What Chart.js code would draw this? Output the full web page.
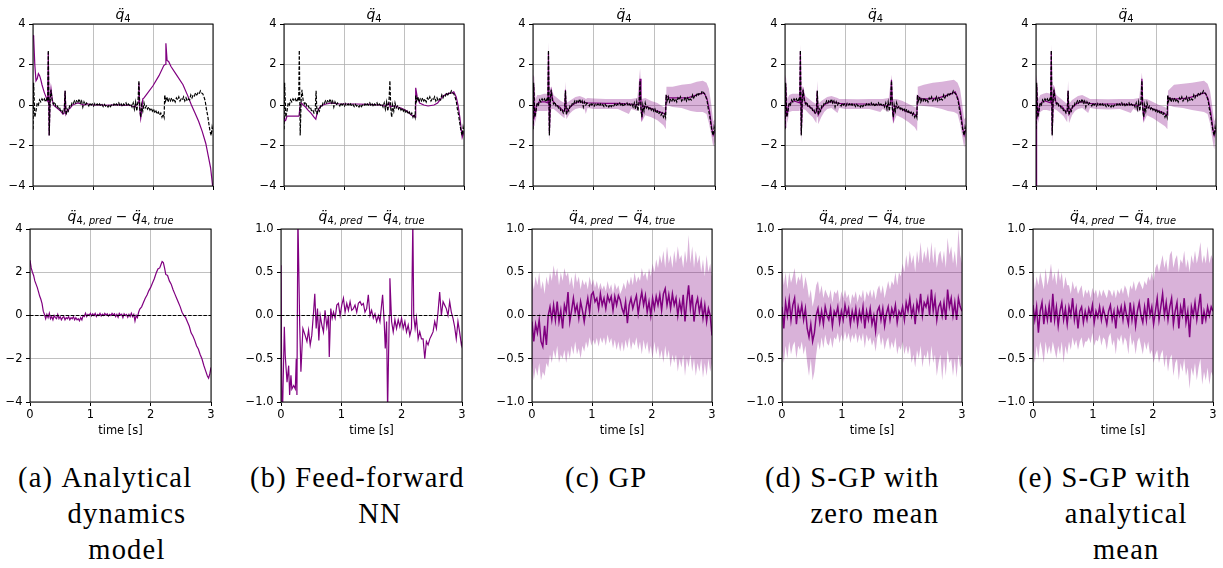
<!DOCTYPE html>
<html><head><meta charset="utf-8">
<script src="https://cdn.jsdelivr.net/npm/chart.js@4.4.0/dist/chart.umd.min.js"></script>
<style>
html,body{margin:0;padding:0;background:#fff;}
body{width:1223px;height:568px;overflow:hidden;position:relative;font-family:"DejaVu Sans",sans-serif;}
canvas{position:absolute;}
.ttl{position:absolute;width:200px;text-align:center;font-family:"DejaVu Sans";font-size:14px;line-height:20px;height:20px;white-space:nowrap;color:#000;}
.ttl .s{font-size:70%;position:relative;top:0.3em;}
.cap{position:absolute;top:460px;font-family:"Liberation Serif",serif;font-size:28.5px;letter-spacing:1.2px;line-height:36px;white-space:nowrap;color:#000;}
.cap .p{display:inline-block;vertical-align:top;}
.cap .b{display:inline-block;vertical-align:top;text-align:center;}
</style></head><body>
<script>
// ---------------- DATA ----------------
const xTicks = [0, 1, 2, 3];
const topYTicks = [-4, -2, 0, 2, 4];
const errYTicksA = [-4, -2, 0, 2, 4];
const errYTicks = [-1.0, -0.5, 0.0, 0.5, 1.0];
const refLine = [[0, 0], [3, 0]];
const DT = 0.03;

// ground truth q4 acceleration [t, value]
const qTrue = [[0,-1.2],[0.01,1.1],[0.02,0.3],[0.03,-0.6],[0.05,-0.3],[0.07,0.1],[0.09,0.0],[0.11,0.25],[0.13,0.15],[0.15,0.3],[0.17,0.2],[0.19,0.3],[0.21,0.15],[0.23,0.3],[0.245,0.2],[0.255,2.7],[0.27,-1.5],[0.285,0.2],[0.30,0.75],[0.32,0.2],[0.34,0.05],[0.36,0.15],[0.38,-0.05],[0.40,0.0],[0.42,-0.15],[0.44,-0.1],[0.46,-0.3],[0.48,-0.25],[0.50,-0.4],[0.52,-0.3],[0.535,0.7],[0.55,-0.5],[0.57,-0.2],[0.59,-0.3],[0.61,-0.05],[0.63,-0.1],[0.65,0.1],[0.67,0.05],[0.69,0.2],[0.71,0.1],[0.73,0.25],[0.75,0.15],[0.77,0.3],[0.79,0.1],[0.81,0.2],[0.83,-0.1],[0.85,0.15],[0.87,0.0],[0.89,0.1],[0.91,0.05],[0.93,-0.05],[0.95,0.1],[0.97,0.0],[0.99,0.05],[1.01,-0.05],[1.03,0.08],[1.05,0.0],[1.07,0.05],[1.09,-0.05],[1.11,0.05],[1.13,-0.05],[1.15,0.02],[1.17,-0.08],[1.19,0.03],[1.21,-0.05],[1.23,0.0],[1.25,-0.1],[1.27,0.02],[1.29,-0.08],[1.31,0.0],[1.33,-0.05],[1.35,0.05],[1.37,-0.05],[1.39,0.05],[1.41,0.0],[1.43,0.1],[1.45,-0.05],[1.47,0.05],[1.49,-0.08],[1.51,0.05],[1.53,0.0],[1.55,0.1],[1.57,-0.05],[1.59,0.05],[1.61,-0.02],[1.63,0.05],[1.65,-0.1],[1.67,0.1],[1.69,-0.2],[1.71,0.15],[1.73,-0.3],[1.75,0.2],[1.765,1.2],[1.78,-0.2],[1.795,-0.6],[1.81,0.0],[1.83,-0.3],[1.85,0.1],[1.87,-0.15],[1.89,-0.05],[1.91,-0.2],[1.93,-0.1],[1.95,-0.25],[1.97,-0.15],[1.99,-0.3],[2.01,-0.2],[2.03,-0.4],[2.05,-0.3],[2.07,-0.45],[2.09,-0.35],[2.11,-0.5],[2.13,-0.4],[2.15,-0.6],[2.17,-0.45],[2.185,-0.6],[2.195,0.5],[2.21,0.2],[2.23,0.4],[2.25,0.15],[2.27,0.3],[2.29,0.2],[2.31,0.35],[2.33,0.2],[2.35,0.3],[2.37,0.15],[2.39,0.35],[2.41,0.25],[2.43,0.4],[2.45,0.2],[2.47,0.3],[2.49,0.25],[2.51,0.4],[2.53,0.2],[2.55,0.35],[2.57,0.2],[2.59,0.3],[2.61,0.25],[2.63,0.5],[2.65,0.35],[2.67,0.5],[2.69,0.45],[2.71,0.6],[2.73,0.5],[2.75,0.6],[2.77,0.55],[2.79,0.7],[2.81,0.6],[2.83,0.55],[2.85,0.4],[2.87,0.2],[2.89,-0.2],[2.91,-0.5],[2.93,-0.9],[2.95,-1.3],[2.97,-1.5],[2.985,-1.1],[3.00,-1.3]];

// (a) analytical dynamics model prediction
const predA = [[0,3.45],[0.01,3.4],[0.03,2.0],[0.05,1.2],[0.07,1.3],[0.09,1.55],[0.11,1.45],[0.13,1.25],[0.15,1.0],[0.17,0.8],[0.19,0.6],[0.21,0.45],[0.23,0.3],[0.245,0.2],[0.255,2.6],[0.27,-1.5],[0.285,0.3],[0.30,0.8],[0.32,0.3],[0.34,0.0],[0.38,-0.1],[0.42,-0.2],[0.46,-0.3],[0.50,-0.45],[0.52,-0.4],[0.535,0.7],[0.55,-0.45],[0.58,-0.25],[0.62,-0.15],[0.66,0.0],[0.70,0.05],[0.75,0.1],[0.80,0.05],[0.85,0.0],[0.90,0.05],[1.0,0.0],[1.1,0.02],[1.2,-0.02],[1.3,0.0],[1.4,0.02],[1.5,-0.02],[1.6,0.0],[1.70,-0.1],[1.75,0.1],[1.765,1.1],[1.78,-0.2],[1.795,-0.65],[1.81,-0.3],[1.83,0.3],[1.85,0.35],[1.90,0.55],[2.00,0.95],[2.10,1.45],[2.18,1.95],[2.20,2.0],[2.215,3.05],[2.235,2.2],[2.26,2.15],[2.30,1.9],[2.40,1.45],[2.50,1.0],[2.58,0.45],[2.64,0.0],[2.70,-0.4],[2.76,-0.8],[2.82,-1.3],[2.88,-1.9],[2.92,-2.5],[2.96,-3.1],[2.99,-3.9],[3.00,-4.3]];

// (b) feed-forward NN prediction
const predB = [[0,-0.6],[0.01,-0.8],[0.03,-0.75],[0.05,-0.55],[0.1,-0.55],[0.15,-0.55],[0.2,-0.55],[0.25,-0.55],[0.27,0.0],[0.29,0.1],[0.32,0.0],[0.36,-0.1],[0.40,-0.25],[0.45,-0.4],[0.50,-0.6],[0.53,-0.7],[0.56,-0.3],[0.6,-0.1],[0.65,0.0],[0.7,0.05],[0.8,0.1],[0.9,0.05],[1.0,0.05],[1.2,0.05],[1.4,0.03],[1.6,0.0],[1.7,-0.05],[1.75,0.1],[1.77,-0.1],[1.8,-0.05],[1.85,-0.05],[1.95,-0.15],[2.05,-0.3],[2.12,-0.5],[2.185,-0.6],[2.195,0.85],[2.22,0.4],[2.26,0.1],[2.33,0.0],[2.4,-0.05],[2.5,0.0],[2.56,0.1],[2.6,0.25],[2.65,0.45],[2.72,0.55],[2.8,0.6],[2.83,0.65],[2.87,0.4],[2.9,0.0],[2.93,-0.6],[2.95,-1.1],[2.97,-1.6],[3.0,-1.3]];

// (c) GP mean prediction and band [t, lo, hi]
const predC = [[0,-1.0],[0.01,1.0],[0.03,-0.5],[0.06,0.0],[0.1,0.15],[0.15,0.15],[0.2,0.15],[0.245,0.1],[0.255,2.6],[0.27,-1.4],[0.285,0.2],[0.3,0.7],[0.33,0.2],[0.38,0.0],[0.44,-0.1],[0.5,-0.3],[0.52,-0.25],[0.535,0.75],[0.55,-0.4],[0.6,-0.15],[0.65,0.0],[0.7,0.1],[0.75,0.15],[0.8,0.15],[0.9,0.1],[1.0,0.1],[1.2,0.08],[1.4,0.08],[1.6,0.05],[1.7,0.0],[1.75,0.05],[1.765,1.3],[1.78,-0.2],[1.795,-0.6],[1.82,-0.05],[1.9,-0.1],[2.0,-0.25],[2.1,-0.35],[2.185,-0.45],[2.195,0.45],[2.25,0.35],[2.4,0.35],[2.55,0.35],[2.65,0.45],[2.75,0.55],[2.82,0.6],[2.87,0.3],[2.91,-0.3],[2.95,-1.2],[2.97,-1.5],[3.0,-1.3]];
const bandTopC = [[0,-1.9,1.5],[0.02,-0.2,1.4],[0.04,-0.9,0.3],[0.07,-0.3,0.5],[0.12,-0.3,0.5],[0.18,-0.3,0.55],[0.24,-0.3,0.55],[0.255,0.0,3.1],[0.27,-1.85,0.5],[0.30,-0.2,0.9],[0.34,-0.2,0.5],[0.40,-0.35,0.35],[0.46,-0.5,0.2],[0.52,-0.65,0.1],[0.535,-0.1,1.15],[0.55,-0.7,0.1],[0.60,-0.45,0.2],[0.65,-0.3,0.3],[0.70,-0.2,0.4],[0.77,-0.15,0.45],[0.85,-0.2,0.35],[0.87,-0.45,0.3],[0.90,-0.15,0.35],[1.00,-0.2,0.32],[1.20,-0.2,0.3],[1.40,-0.2,0.3],[1.58,-0.45,0.3],[1.62,-0.2,0.3],[1.72,-0.3,0.35],[1.765,0.1,1.8],[1.79,-0.85,0.3],[1.85,-0.5,0.35],[1.95,-0.6,0.2],[2.05,-0.75,0.1],[2.15,-1.0,-0.1],[2.19,-1.2,-0.1],[2.20,0.0,0.9],[2.30,-0.1,0.9],[2.45,-0.15,1.0],[2.60,-0.3,1.05],[2.70,-0.35,1.15],[2.80,-0.35,1.2],[2.86,-0.45,1.1],[2.90,-0.9,0.8],[2.94,-1.5,0.0],[2.97,-2.05,-0.8],[3.00,-1.8,-0.7]];

// (d) S-GP zero mean
const predD = [[0,-1.1],[0.01,1.05],[0.03,-0.55],[0.06,0.0],[0.1,0.15],[0.15,0.2],[0.2,0.15],[0.245,0.1],[0.255,2.65],[0.27,-1.45],[0.285,0.2],[0.3,0.7],[0.33,0.15],[0.38,-0.05],[0.44,-0.15],[0.5,-0.4],[0.52,-0.35],[0.535,0.7],[0.55,-0.5],[0.6,-0.2],[0.65,0.0],[0.7,0.1],[0.75,0.15],[0.8,0.15],[0.9,0.08],[1.0,0.05],[1.2,0.05],[1.4,0.05],[1.6,0.0],[1.7,-0.05],[1.75,0.05],[1.765,1.25],[1.78,-0.2],[1.795,-0.65],[1.82,-0.05],[1.9,-0.15],[2.0,-0.3],[2.1,-0.4],[2.185,-0.55],[2.195,0.45],[2.25,0.3],[2.4,0.3],[2.55,0.35],[2.65,0.45],[2.75,0.55],[2.82,0.65],[2.87,0.3],[2.91,-0.3],[2.95,-1.2],[2.97,-1.5],[3.0,-1.2]];
const bandTopD = [[0,-1.1,1.5],[0.02,-0.3,1.3],[0.04,-0.9,0.3],[0.07,-0.35,0.5],[0.12,-0.3,0.55],[0.18,-0.3,0.55],[0.24,-0.3,0.55],[0.255,0.0,3.0],[0.27,-1.85,0.5],[0.30,-0.2,0.9],[0.34,-0.25,0.45],[0.40,-0.45,0.3],[0.46,-0.6,0.15],[0.52,-0.9,0.05],[0.535,-0.2,1.2],[0.55,-0.95,0.05],[0.60,-0.6,0.2],[0.65,-0.35,0.3],[0.70,-0.2,0.4],[0.77,-0.15,0.45],[0.87,-0.4,0.35],[0.90,-0.15,0.3],[1.00,-0.2,0.3],[1.20,-0.2,0.28],[1.40,-0.2,0.3],[1.58,-0.35,0.3],[1.62,-0.2,0.3],[1.72,-0.35,0.35],[1.765,0.2,1.5],[1.79,-0.95,0.3],[1.85,-0.5,0.3],[1.95,-0.65,0.2],[2.05,-0.85,0.05],[2.15,-1.1,-0.1],[2.19,-1.3,-0.15],[2.20,0.0,0.9],[2.30,-0.05,1.0],[2.45,-0.1,1.1],[2.60,-0.2,1.15],[2.70,-0.3,1.2],[2.80,-0.35,1.25],[2.86,-0.45,1.1],[2.90,-0.9,0.8],[2.94,-1.6,0.0],[2.97,-2.1,-0.7],[3.00,-1.6,-0.6]];

// (e) S-GP analytical mean
const predE = [[0,-4.0],[0.01,1.0],[0.03,-0.5],[0.06,0.0],[0.1,0.15],[0.15,0.2],[0.2,0.15],[0.245,0.1],[0.255,2.65],[0.27,-1.45],[0.285,0.2],[0.3,0.75],[0.33,0.15],[0.38,0.0],[0.44,-0.1],[0.5,-0.35],[0.52,-0.3],[0.535,0.7],[0.55,-0.45],[0.6,-0.15],[0.65,0.0],[0.7,0.1],[0.75,0.15],[0.8,0.15],[0.9,0.08],[1.0,0.05],[1.2,0.05],[1.4,0.05],[1.6,0.02],[1.7,-0.05],[1.75,0.05],[1.765,1.3],[1.78,-0.2],[1.795,-0.6],[1.82,-0.05],[1.9,-0.15],[2.0,-0.25],[2.1,-0.35],[2.185,-0.5],[2.195,0.4],[2.25,0.3],[2.4,0.3],[2.55,0.35],[2.65,0.45],[2.75,0.55],[2.82,0.6],[2.87,0.3],[2.91,-0.3],[2.95,-1.2],[2.97,-1.5],[3.0,-1.2]];
const bandTopE = [[0,-2.2,1.5],[0.02,-0.3,1.2],[0.04,-0.9,0.3],[0.07,-0.35,0.5],[0.12,-0.25,0.55],[0.18,-0.25,0.6],[0.24,-0.3,0.55],[0.255,0.0,3.0],[0.27,-1.85,0.5],[0.30,-0.2,0.9],[0.34,-0.25,0.5],[0.40,-0.4,0.35],[0.46,-0.55,0.2],[0.52,-0.85,0.05],[0.535,-0.2,1.2],[0.55,-0.9,0.05],[0.60,-0.5,0.25],[0.65,-0.3,0.35],[0.70,-0.2,0.45],[0.77,-0.15,0.5],[0.87,-0.4,0.35],[0.90,-0.15,0.3],[1.00,-0.2,0.3],[1.20,-0.22,0.28],[1.40,-0.2,0.3],[1.58,-0.4,0.3],[1.62,-0.2,0.3],[1.72,-0.35,0.35],[1.765,0.2,1.6],[1.79,-0.9,0.3],[1.85,-0.5,0.3],[1.95,-0.65,0.15],[2.05,-0.85,0.0],[2.15,-1.05,-0.1],[2.19,-1.2,-0.2],[2.20,0.0,0.7],[2.30,-0.1,1.0],[2.45,-0.15,1.05],[2.60,-0.25,1.1],[2.70,-0.3,1.15],[2.80,-0.35,1.2],[2.86,-0.45,1.05],[2.90,-0.9,0.7],[2.94,-1.7,-0.1],[2.97,-2.2,-0.8],[3.00,-1.3,-0.6]];

// errors: (a) analytical model [t, value]
const errA = [[0,2.55],[0.02,2.2],[0.04,2.0],[0.06,1.85],[0.08,1.6],[0.10,1.45],[0.12,1.3],[0.14,1.1],[0.16,0.9],[0.18,0.75],[0.20,0.55],[0.22,0.2],[0.24,0.05],[0.26,-0.15],[0.28,0.05],[0.30,-0.1],[0.32,0.1],[0.34,-0.15],[0.36,-0.05],[0.38,-0.2],[0.40,0.0],[0.42,-0.1],[0.44,-0.15],[0.46,0.05],[0.48,-0.15],[0.50,-0.05],[0.52,-0.2],[0.54,-0.1],[0.56,-0.05],[0.58,-0.2],[0.60,-0.1],[0.62,-0.15],[0.64,-0.05],[0.66,-0.2],[0.68,-0.1],[0.70,-0.15],[0.72,-0.05],[0.74,-0.2],[0.76,-0.1],[0.78,-0.2],[0.80,-0.15],[0.82,-0.25],[0.84,-0.1],[0.86,-0.2],[0.88,0.0],[0.90,-0.05],[0.92,0.1],[0.94,-0.05],[0.96,0.05],[0.98,0.0],[1.00,0.1],[1.02,-0.02],[1.04,0.08],[1.06,0.0],[1.08,0.1],[1.10,-0.05],[1.12,0.05],[1.14,0.0],[1.16,0.1],[1.18,-0.02],[1.20,0.06],[1.22,0.0],[1.24,0.1],[1.26,0.02],[1.28,0.08],[1.30,-0.03],[1.32,0.05],[1.34,0.0],[1.36,0.1],[1.38,0.03],[1.40,0.08],[1.42,-0.05],[1.44,0.05],[1.46,-0.08],[1.48,0.1],[1.50,0.02],[1.52,0.06],[1.54,-0.1],[1.56,0.08],[1.58,0.0],[1.60,0.05],[1.62,-0.08],[1.64,0.05],[1.66,-0.05],[1.68,0.1],[1.70,-0.05],[1.72,0.05],[1.74,-0.25],[1.76,0.0],[1.78,-0.1],[1.80,0.15],[1.82,0.3],[1.85,0.4],[1.88,0.6],[1.91,0.8],[1.94,0.95],[1.97,1.15],[2.00,1.3],[2.03,1.5],[2.06,1.7],[2.09,1.95],[2.12,2.15],[2.15,2.2],[2.17,2.35],[2.19,2.5],[2.21,2.45],[2.23,2.2],[2.25,1.9],[2.28,1.85],[2.31,1.6],[2.34,1.45],[2.37,1.2],[2.40,1.0],[2.43,0.8],[2.46,0.6],[2.49,0.4],[2.52,0.15],[2.55,0.0],[2.58,-0.1],[2.61,-0.3],[2.64,-0.5],[2.67,-0.8],[2.70,-0.95],[2.73,-1.15],[2.76,-1.4],[2.79,-1.55],[2.82,-1.8],[2.85,-2.0],[2.88,-2.3],[2.91,-2.55],[2.94,-2.8],[2.96,-2.9],[2.98,-2.7],[3.00,-2.4]];

// (b) NN error [t, value]
const errB = [[0,0.58],[0.017,-1.4],[0.03,-1.4],[0.055,-0.13],[0.07,-0.46],[0.1,-0.77],[0.127,-0.58],[0.143,-0.92],[0.165,-0.69],[0.18,-0.85],[0.21,-0.81],[0.237,-0.85],[0.253,-0.5],[0.264,-0.92],[0.28,1.16],[0.31,-0.11],[0.33,-0.65],[0.363,-0.15],[0.40,-0.23],[0.43,-0.3],[0.457,-0.17],[0.484,-0.34],[0.51,-0.23],[0.54,0.04],[0.56,0.25],[0.583,-0.15],[0.605,0.08],[0.627,-0.29],[0.65,0.0],[0.677,-0.11],[0.704,-0.19],[0.73,0.06],[0.76,-0.13],[0.787,0.0],[0.80,-0.48],[0.825,0.08],[0.848,-0.03],[0.87,0.04],[0.897,-0.03],[0.925,0.12],[0.952,0.14],[0.98,0.0],[1.007,0.12],[1.035,0.2],[1.062,0.04],[1.09,0.14],[1.117,0.06],[1.145,0.16],[1.172,0.06],[1.2,0.08],[1.227,0.12],[1.255,0.04],[1.282,0.14],[1.31,0.16],[1.337,0.12],[1.365,0.14],[1.392,0.04],[1.42,0.08],[1.447,0.24],[1.475,0.0],[1.502,0.06],[1.53,-0.03],[1.557,0.02],[1.585,-0.07],[1.613,0.0],[1.64,-0.07],[1.684,0.24],[1.71,-0.07],[1.728,-0.38],[1.75,-0.07],[1.767,-1.1],[1.794,0.0],[1.805,0.43],[1.833,-0.07],[1.86,-0.19],[1.888,-0.05],[1.915,-0.15],[1.943,-0.05],[1.97,-0.13],[1.998,-0.03],[2.025,-0.15],[2.053,-0.07],[2.08,-0.19],[2.108,-0.11],[2.135,-0.23],[2.163,-0.15],[2.185,1.1],[2.2,0.0],[2.223,-0.15],[2.245,-0.03],[2.273,-0.27],[2.3,-0.19],[2.328,-0.27],[2.355,-0.27],[2.383,-0.5],[2.41,-0.3],[2.438,-0.34],[2.466,-0.27],[2.493,-0.23],[2.52,-0.19],[2.548,-0.07],[2.576,-0.15],[2.603,0.04],[2.63,0.27],[2.658,0.0],[2.686,0.16],[2.713,0.12],[2.74,0.08],[2.768,0.0],[2.796,0.16],[2.823,0.04],[2.85,-0.03],[2.878,-0.13],[2.905,-0.27],[2.933,-0.07],[2.96,-0.19],[2.99,-0.34],[3.0,-0.3]];

// (c) GP error mean / band, sampled every DT seconds
const errCmean = [-0.07,-0.3,-0.1,-0.2,-0.05,-0.3,-0.36,-0.12,-0.34,0.0,
 0.1,-0.05,0.12,-0.05,0.16,-0.07,0.06,-0.15,0.12,0.04,
 0.27,-0.07,0.06,0.2,0.04,0.12,-0.03,0.16,0.06,-0.07,
 0.08,0.2,0.04,0.24,0.27,0.16,0.2,0.08,0.25,0.12,
 0.2,0.08,0.23,0.16,0.22,0.06,0.22,0.12,0.23,0.18,
 0.08,0.02,0.16,-0.09,0.12,0.2,0.08,0.16,0.23,0.02,
 0.16,0.27,0.12,0.23,0.04,0.16,0.0,0.2,0.08,0.22,
 0.12,0.24,0.06,0.25,0.31,0.12,0.24,0.08,0.25,0.12,
 0.2,0.0,0.16,0.04,0.24,-0.07,0.16,0.35,0.08,0.24,
 -0.07,0.12,0.2,0.04,0.16,-0.03,0.12,-0.07,0.08,0.0,-0.23];
const errCupper = [0.42,0.3,0.45,0.35,0.5,0.3,0.4,0.25,0.45,0.35,
 0.5,0.4,0.58,0.45,0.55,0.35,0.5,0.4,0.55,0.45,
 0.5,0.35,0.45,0.3,0.5,0.38,0.45,0.3,0.42,0.35,
 0.4,0.3,0.45,0.35,0.42,0.32,0.4,0.3,0.38,0.3,
 0.35,0.28,0.4,0.3,0.36,0.25,0.38,0.3,0.35,0.25,
 0.3,0.38,0.3,0.42,0.35,0.45,0.35,0.5,0.38,0.45,
 0.4,0.55,0.45,0.5,0.4,0.55,0.45,0.6,0.5,0.65,
 0.55,0.7,0.6,0.75,0.55,0.8,0.6,0.7,0.55,0.75,
 0.6,0.8,0.65,0.7,0.55,0.75,0.6,0.93,0.6,0.8,
 0.55,0.75,0.6,0.7,0.5,0.65,0.45,0.7,0.5,0.6,0.45];
const errClower = [-0.55,-0.75,-0.6,-0.7,-0.55,-0.75,-0.65,-0.7,-0.55,-0.6,
 -0.45,-0.55,-0.4,-0.5,-0.35,-0.55,-0.45,-0.5,-0.4,-0.55,
 -0.4,-0.5,-0.35,-0.45,-0.3,-0.45,-0.38,-0.5,-0.35,-0.42,
 -0.3,-0.38,-0.25,-0.35,-0.28,-0.34,-0.26,-0.36,-0.25,-0.32,
 -0.25,-0.35,-0.22,-0.32,-0.26,-0.38,-0.28,-0.4,-0.3,-0.42,
 -0.3,-0.42,-0.28,-0.38,-0.25,-0.4,-0.3,-0.35,-0.25,-0.4,
 -0.3,-0.45,-0.28,-0.4,-0.3,-0.45,-0.35,-0.5,-0.3,-0.45,
 -0.35,-0.5,-0.4,-0.55,-0.35,-0.5,-0.4,-0.6,-0.45,-0.55,
 -0.45,-0.65,-0.5,-0.6,-0.45,-0.7,-0.5,-0.6,-0.45,-0.65,
 -0.5,-0.7,-0.55,-0.65,-0.5,-0.72,-0.55,-0.7,-0.5,-0.65,-0.55];

// (d) S-GP zero mean error
const errDmean = [0.1,-0.15,0.15,0.0,0.18,-0.05,0.12,0.2,-0.1,0.1,
 0.0,0.12,-0.05,0.08,-0.15,-0.25,-0.1,-0.3,-0.2,0.0,
 0.08,-0.08,0.05,-0.1,0.1,0.0,-0.05,0.08,-0.12,0.05,
 0.0,0.1,-0.08,0.05,-0.05,0.12,0.0,0.08,-0.1,0.05,
 -0.05,0.08,-0.1,0.05,-0.05,0.1,-0.15,0.05,-0.05,0.08,
 -0.1,0.0,-0.18,0.05,0.1,-0.05,0.08,-0.12,0.02,0.1,
 -0.05,0.08,0.0,0.12,-0.08,0.05,0.0,0.1,-0.05,0.15,
 0.05,0.2,0.0,0.1,-0.1,0.15,0.05,0.25,0.0,0.15,
 0.1,0.2,0.0,0.3,0.05,0.2,-0.05,0.1,0.15,0.0,
 0.15,-0.05,0.3,0.1,0.2,0.0,0.15,-0.05,0.2,0.1,0.05];
const errDupper = [0.55,0.35,0.5,0.3,0.5,0.38,0.45,0.55,0.35,0.45,
 0.4,0.5,0.3,0.45,0.35,0.2,0.3,0.1,0.2,0.35,
 0.4,0.25,0.35,0.2,0.3,0.25,0.2,0.3,0.15,0.28,
 0.25,0.3,0.15,0.28,0.2,0.3,0.2,0.25,0.12,0.25,
 0.2,0.28,0.15,0.25,0.2,0.3,0.15,0.28,0.22,0.3,
 0.2,0.3,0.18,0.3,0.35,0.25,0.35,0.2,0.3,0.4,
 0.3,0.4,0.35,0.5,0.35,0.5,0.45,0.6,0.5,0.7,
 0.55,0.75,0.6,0.7,0.5,0.75,0.6,0.85,0.6,0.75,
 0.65,0.8,0.6,0.85,0.6,0.8,0.55,0.7,0.75,0.6,
 0.75,0.55,0.9,0.7,0.8,0.6,0.75,0.55,1.0,0.7,0.6];
const errDlower = [-0.4,-0.55,-0.35,-0.5,-0.3,-0.45,-0.35,-0.3,-0.5,-0.35,
 -0.4,-0.3,-0.45,-0.35,-0.55,-0.7,-0.5,-0.75,-0.65,-0.45,
 -0.3,-0.4,-0.25,-0.38,-0.22,-0.32,-0.35,-0.25,-0.38,-0.25,
 -0.28,-0.2,-0.32,-0.22,-0.3,-0.18,-0.28,-0.2,-0.32,-0.22,
 -0.28,-0.2,-0.32,-0.22,-0.3,-0.2,-0.38,-0.22,-0.3,-0.25,
 -0.35,-0.28,-0.42,-0.25,-0.2,-0.35,-0.25,-0.4,-0.3,-0.25,
 -0.4,-0.3,-0.38,-0.25,-0.45,-0.35,-0.4,-0.3,-0.45,-0.35,
 -0.45,-0.35,-0.55,-0.45,-0.6,-0.4,-0.5,-0.35,-0.6,-0.45,
 -0.5,-0.4,-0.6,-0.35,-0.55,-0.45,-0.7,-0.55,-0.45,-0.75,
 -0.5,-0.7,-0.4,-0.55,-0.5,-0.7,-0.5,-0.72,-0.45,-0.6,-0.55];

// (e) S-GP analytical mean error
const errEmean = [0.12,-0.05,0.1,-0.2,0.05,0.15,-0.1,0.08,-0.05,0.12,
 -0.08,0.25,-0.05,0.1,-0.12,0.05,0.15,-0.05,0.08,-0.1,
 0.1,0.0,0.2,-0.05,0.08,-0.15,0.05,0.1,-0.08,0.05,
 -0.05,0.08,0.0,0.12,-0.08,0.05,-0.02,0.1,-0.05,0.08,
 0.0,-0.1,0.05,0.12,-0.05,0.05,-0.15,0.08,0.0,0.1,
 -0.05,0.12,0.0,-0.1,0.15,-0.05,0.1,-0.12,0.05,0.15,
 0.0,-0.08,0.1,-0.05,0.2,0.0,0.1,-0.1,0.05,0.2,
 -0.05,0.1,0.25,0.0,0.15,-0.05,0.1,0.2,-0.1,0.05,
 0.15,-0.15,0.1,0.0,0.2,-0.08,0.05,-0.25,0.1,0.0,
 0.15,-0.05,0.1,0.25,-0.1,0.05,-0.05,0.1,0.0,0.1,0.05];
const errEupper = [0.5,0.3,0.45,0.35,0.5,0.4,0.3,0.55,0.35,0.45,
 0.6,0.4,0.5,0.35,0.55,0.4,0.5,0.3,0.45,0.35,
 0.35,0.25,0.4,0.3,0.35,0.25,0.3,0.35,0.2,0.3,
 0.25,0.3,0.2,0.32,0.25,0.3,0.2,0.3,0.22,0.3,
 0.25,0.2,0.3,0.28,0.22,0.3,0.2,0.3,0.25,0.32,
 0.25,0.35,0.3,0.2,0.35,0.3,0.4,0.28,0.35,0.4,
 0.35,0.3,0.4,0.35,0.45,0.4,0.5,0.4,0.55,0.6,
 0.5,0.6,0.7,0.55,0.65,0.5,0.7,0.75,0.55,0.65,
 0.7,0.5,0.65,0.6,0.75,0.55,0.65,0.5,0.7,0.6,
 0.75,0.6,0.7,0.85,0.6,0.7,0.6,0.8,0.6,0.7,0.65];
const errElower = [-0.4,-0.55,-0.35,-0.5,-0.3,-0.4,-0.55,-0.3,-0.45,-0.35,
 -0.45,-0.3,-0.4,-0.5,-0.35,-0.45,-0.3,-0.55,-0.35,-0.45,
 -0.3,-0.4,-0.25,-0.35,-0.28,-0.4,-0.3,-0.25,-0.38,-0.3,
 -0.3,-0.25,-0.32,-0.2,-0.35,-0.28,-0.3,-0.22,-0.35,-0.25,
 -0.28,-0.4,-0.25,-0.2,-0.35,-0.28,-0.45,-0.25,-0.3,-0.22,
 -0.35,-0.25,-0.3,-0.45,-0.2,-0.35,-0.28,-0.45,-0.3,-0.25,
 -0.35,-0.45,-0.3,-0.4,-0.3,-0.45,-0.4,-0.55,-0.45,-0.4,
 -0.55,-0.45,-0.4,-0.6,-0.45,-0.65,-0.5,-0.45,-0.7,-0.55,
 -0.5,-0.75,-0.55,-0.65,-0.5,-0.7,-0.6,-0.85,-0.6,-0.7,
 -0.55,-0.75,-0.6,-0.5,-0.8,-0.65,-0.75,-0.6,-0.8,-0.65,-0.7];

// ---------------- RENDERING ----------------
const PURPLE = '#800080';
const BANDFILL = 'rgba(128,0,128,0.3)';
const pairs = a => a.map(p => ({x: p[0], y: p[1]}));
const grid = a => a.map((v, i) => ({x: +(i * DT).toFixed(2), y: v}));
const bandLo = a => a.map(p => ({x: p[0], y: p[1]}));
const bandHi = a => a.map(p => ({x: p[0], y: p[2]}));

const dashed = d => ({data: d, borderColor: '#000', borderWidth: 1.2, borderDash: [3.5, 1.6], fill: false, pointRadius: 0});
const solid = (d, w) => ({data: d, borderColor: PURPLE, borderWidth: w, fill: false, pointRadius: 0});
const band = (hi, lo) => [
  {data: hi, borderColor: 'rgba(0,0,0,0)', borderWidth: 0.01, backgroundColor: BANDFILL, fill: '+1', pointRadius: 0},
  {data: lo, borderColor: 'rgba(0,0,0,0)', borderWidth: 0.01, fill: false, pointRadius: 0}
];

const frame = {id: 'frame', afterDatasetsDraw(chart) {
  const {ctx, chartArea: a} = chart;
  ctx.save(); ctx.strokeStyle = '#000'; ctx.lineWidth = 1;
  ctx.strokeRect(a.left, a.top, a.right - a.left, a.bottom - a.top);
  ctx.restore();
}};

const FONT = {family: 'DejaVu Sans', size: 11.5};
const PADL = 48, PADR = 8, PADT = 6, PADB = 38;
const fmt = dec => v => (v < 0 ? '\u2212' : '') + Math.abs(v).toFixed(dec);

function panel(rect, datasets, yTicks, dec, showX) {
  const c = document.createElement('canvas');
  const w = rect.R - rect.L + PADL + PADR, h = rect.B - rect.T + PADT + PADB;
  c.width = w; c.height = h;
  c.style.left = (rect.L - PADL) + 'px'; c.style.top = (rect.T - PADT) + 'px';
  c.style.width = w + 'px'; c.style.height = h + 'px';
  document.body.appendChild(c);
  const gridOpt = {color: '#b0b0b0', lineWidth: 0.8, tickColor: '#000', tickLength: 4, tickWidth: 1};
  new Chart(c, {
    type: 'line',
    data: {datasets},
    options: {
      responsive: false, animation: false, events: [],
      layout: {padding: {left: 0, right: PADR, top: PADT, bottom: 0}},
      plugins: {legend: {display: false}, tooltip: {enabled: false}},
      elements: {point: {radius: 0}, line: {tension: 0}},
      scales: {
        x: {type: 'linear', min: xTicks[0], max: xTicks[xTicks.length - 1],
          afterFit: s => { s.height = PADB; s.paddingLeft = 0; s.paddingRight = 0; },
          afterBuildTicks: s => { s.ticks = xTicks.map(v => ({value: v})); },
          ticks: {display: showX, font: FONT, color: '#000', padding: 2, maxRotation: 0, autoSkip: false, callback: v => String(v)},
          grid: gridOpt, border: {display: false},
          title: {display: showX, text: 'time [s]', font: FONT, color: '#000', padding: {top: 0, bottom: 2}}
        },
        y: {type: 'linear', min: yTicks[0], max: yTicks[yTicks.length - 1],
          afterFit: s => { s.width = PADL; s.paddingTop = 0; s.paddingBottom = 0; },
          afterBuildTicks: s => { s.ticks = yTicks.map(v => ({value: v})); },
          ticks: {font: FONT, color: '#000', padding: 3.5, autoSkip: false, callback: fmt(dec)},
          grid: gridOpt, border: {display: false}
        }
      }
    },
    plugins: [frame]
  });
}

const topRects = [
  {L: 33, R: 213, T: 24, B: 186}, {L: 284, R: 464, T: 24, B: 186}, {L: 533, R: 715, T: 24, B: 186},
  {L: 785, R: 966, T: 24, B: 186}, {L: 1036, R: 1216, T: 24, B: 186}];
const botRects = [
  {L: 30, R: 211, T: 229, B: 402}, {L: 281, R: 462, T: 229, B: 402}, {L: 532, R: 712, T: 229, B: 402},
  {L: 782, R: 962, T: 229, B: 402}, {L: 1033, R: 1213, T: 229, B: 402}];

const truthPts = pairs(qTrue);
panel(topRects[0], [dashed(truthPts), solid(pairs(predA), 1.2)], topYTicks, 0, false);
panel(topRects[1], [dashed(truthPts), solid(pairs(predB), 1.2)], topYTicks, 0, false);
panel(topRects[2], [dashed(truthPts), solid(pairs(predC), 1.2), ...band(bandHi(bandTopC), bandLo(bandTopC))], topYTicks, 0, false);
panel(topRects[3], [dashed(truthPts), solid(pairs(predD), 1.2), ...band(bandHi(bandTopD), bandLo(bandTopD))], topYTicks, 0, false);
panel(topRects[4], [dashed(truthPts), solid(pairs(predE), 1.2), ...band(bandHi(bandTopE), bandLo(bandTopE))], topYTicks, 0, false);

const ref = pairs(refLine);
panel(botRects[0], [dashed(ref), solid(pairs(errA), 1.2)], errYTicksA, 0, true);
panel(botRects[1], [dashed(ref), solid(pairs(errB), 1.2)], errYTicks, 1, true);
panel(botRects[2], [dashed(ref), solid(grid(errCmean), 1.5), ...band(grid(errCupper), grid(errClower))], errYTicks, 1, true);
panel(botRects[3], [dashed(ref), solid(grid(errDmean), 1.5), ...band(grid(errDupper), grid(errDlower))], errYTicks, 1, true);
panel(botRects[4], [dashed(ref), solid(grid(errEmean), 1.5), ...band(grid(errEupper), grid(errElower))], errYTicks, 1, true);

// titles
const topTitle = '<i>q\u0308</i><span class="s">4</span>';
const botTitle = '<i>q\u0308</i><span class="s">4, <i>pred</i></span> \u2212 <i>q\u0308</i><span class="s">4, <i>true</i></span>';
topRects.forEach(r => {
  const d = document.createElement('div'); d.className = 'ttl'; d.innerHTML = topTitle;
  d.style.left = ((r.L + r.R) / 2 - 100) + 'px'; d.style.top = '4px'; document.body.appendChild(d);
});
botRects.forEach(r => {
  const d = document.createElement('div'); d.className = 'ttl'; d.innerHTML = botTitle;
  d.style.left = ((r.L + r.R) / 2 - 100) + 'px'; d.style.top = '206px'; document.body.appendChild(d);
});
</script>
<div class="cap" style="left:18px"><span class="p">(a)&nbsp;</span><span class="b">Analytical<br>dynamics<br>model</span></div>
<div class="cap" style="left:250px"><span class="p">(b)&nbsp;</span><span class="b">Feed-forward<br>NN</span></div>
<div class="cap" style="left:565px"><span class="p">(c)&nbsp;</span><span class="b">GP</span></div>
<div class="cap" style="left:765px"><span class="p">(d)&nbsp;</span><span class="b">S-GP with<br>zero mean</span></div>
<div class="cap" style="left:1018px"><span class="p">(e)&nbsp;</span><span class="b">S-GP with<br>analytical<br>mean</span></div>
</body></html>
